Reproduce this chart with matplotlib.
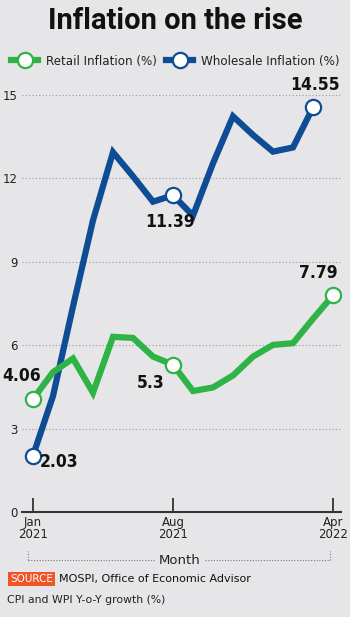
import matplotlib
matplotlib.use("Agg")
import matplotlib.pyplot as plt
from matplotlib.lines import Line2D

# Dados
months = ["Jan 2021", "Feb 2021", "Mar 2021", "Apr 2021", "May 2021", "Jun 2021",
          "Jul 2021", "Aug 2021", "Sep 2021", "Oct 2021", "Nov 2021", "Dec 2021",
          "Jan 2022", "Feb 2022", "Mar 2022", "Apr 2022"]
retail = [4.06, 5.03, 5.52, 4.29, 6.30, 6.26, 5.59, 5.30, 4.35, 4.48, 4.91, 5.59,
          6.01, 6.07, 6.95, 7.79]
wholesale = [2.03, 4.17, 7.39, 10.49, 12.94, 12.07, 11.16, 11.39, 10.66, 12.54,
             14.23, 13.56, 12.96, 13.11, 14.55]
yticks = [0, 3, 6, 9, 12, 15]
xtick_idx = [0, 7, 15]
xtick_labels = ["Jan\n2021", "Aug\n2021", "Apr\n2022"]

bg = "#e6e6e8"
green = "#2fb347"
blue = "#0e4c96"

fig = plt.figure(figsize=(3.5, 6.17), dpi=100, facecolor=bg)
ax = fig.add_axes([22 / 350, 105 / 617, 319 / 350, 431 / 617])
ax.set_facecolor(bg)

xr = list(range(len(retail)))
xw = list(range(len(wholesale)))
ax.plot(xw, wholesale, color=blue, lw=4.5, solid_joinstyle="miter", zorder=3)
ax.plot(xr, retail, color=green, lw=4.5, solid_joinstyle="miter", zorder=3)

# marcadores so no inicio, agosto e fim
for xs, ys, c in [(xr, retail, green), (xw, wholesale, blue)]:
    idx = [0, 7, len(ys) - 1]
    ax.plot([xs[i] for i in idx], [ys[i] for i in idx], "o", ms=11, mfc="white",
            mec=c, mew=1.6, zorder=4, ls="none")

ax.set_xlim(-0.55, 15.4)
ax.set_ylim(0, 15.5)
ax.set_yticks(yticks)
ax.set_yticklabels([str(v) for v in yticks], fontsize=8.5, color="#222222")
ax.tick_params(axis="y", length=0, pad=3)
for v in yticks[1:]:
    ax.axhline(v, color="#9a9a9a", lw=0.8, ls=(0, (1, 2)), zorder=1)

ax.set_xticks(xtick_idx)
ax.set_xticklabels(xtick_labels, fontsize=8.5, color="#222222", linespacing=0.9)
ax.tick_params(axis="x", direction="in", length=10, width=1.3, color="#333333", pad=3)
for s in ["top", "right", "left"]:
    ax.spines[s].set_visible(False)
ax.spines["bottom"].set_linewidth(1.5)
ax.spines["bottom"].set_color("#333333")

# rotulos dos valores
lab = dict(fontsize=12.5, fontweight="bold", family="DejaVu Sans", fontstretch="condensed",
           color="#111111", textcoords="offset pixels", zorder=5, ha="center", va="center")
ax.annotate("4.06", (xr[0], retail[0]), xytext=(-11, 23), **lab)
ax.annotate("2.03", (xw[0], wholesale[0]), xytext=(26, -6), **lab)
ax.annotate("5.3", (xr[7], retail[7]), xytext=(-22, -18), **lab)
ax.annotate("11.39", (xw[7], wholesale[7]), xytext=(-3, -27), **lab)
ax.annotate("14.55", (xw[-1], wholesale[-1]), xytext=(2, 22), **lab)
ax.annotate("7.79", (xr[-1], retail[-1]), xytext=(-15, 22), **lab)

# titulo
fig.text(0.5, 1 - 21 / 617, "Inflation on the rise", ha="center", va="center",
         fontsize=21, fontweight="bold", family="Roboto", color="#111111")

# legenda
h1 = Line2D([], [], color=green, lw=4.5, marker="o", ms=11, mfc="white", mec=green, mew=1.6)
h2 = Line2D([], [], color=blue, lw=4.5, marker="o", ms=11, mfc="white", mec=blue, mew=1.6)
fig.legend([h1, h2], ["Retail Inflation (%)", "Wholesale Inflation (%)"],
           loc="center", bbox_to_anchor=(0.5, 1 - 61 / 617), ncol=2, frameon=False,
           fontsize=8.6, handlelength=2.3, handletextpad=0.6, columnspacing=0.8,
           labelcolor="#222222", borderpad=0)

# eixo "Month" com colchete pontilhado
ym = 1 - 560 / 617
fig.add_artist(Line2D([28 / 350, 155 / 350], [ym, ym], color="#777777", lw=0.8, ls=(0, (1, 1.5))))
fig.add_artist(Line2D([205 / 350, 330 / 350], [ym, ym], color="#777777", lw=0.8, ls=(0, (1, 1.5))))
for xx in [28 / 350, 330 / 350]:
    fig.add_artist(Line2D([xx, xx], [ym, ym + 9 / 617], color="#777777", lw=0.8, ls=(0, (1, 1.5))))
fig.text(180 / 350, ym, "Month", ha="center", va="center", fontsize=9.5, color="#222222")

# fonte
fig.text(10 / 350, 1 - 579 / 617, "SOURCE", ha="left", va="center", fontsize=7.5,
         color="white", bbox=dict(boxstyle="square,pad=0.2", fc="#ef5526", ec="none"))
fig.text(59 / 350, 1 - 579 / 617, "MOSPI, Office of Economic Advisor", ha="left",
         va="center", fontsize=8, color="#111111")
fig.text(7 / 350, 1 - 600 / 617, "CPI and WPI Y-o-Y growth (%)", ha="left",
         va="center", fontsize=7.8, color="#222222")

fig.savefig("out.png", dpi=100, facecolor=bg)
